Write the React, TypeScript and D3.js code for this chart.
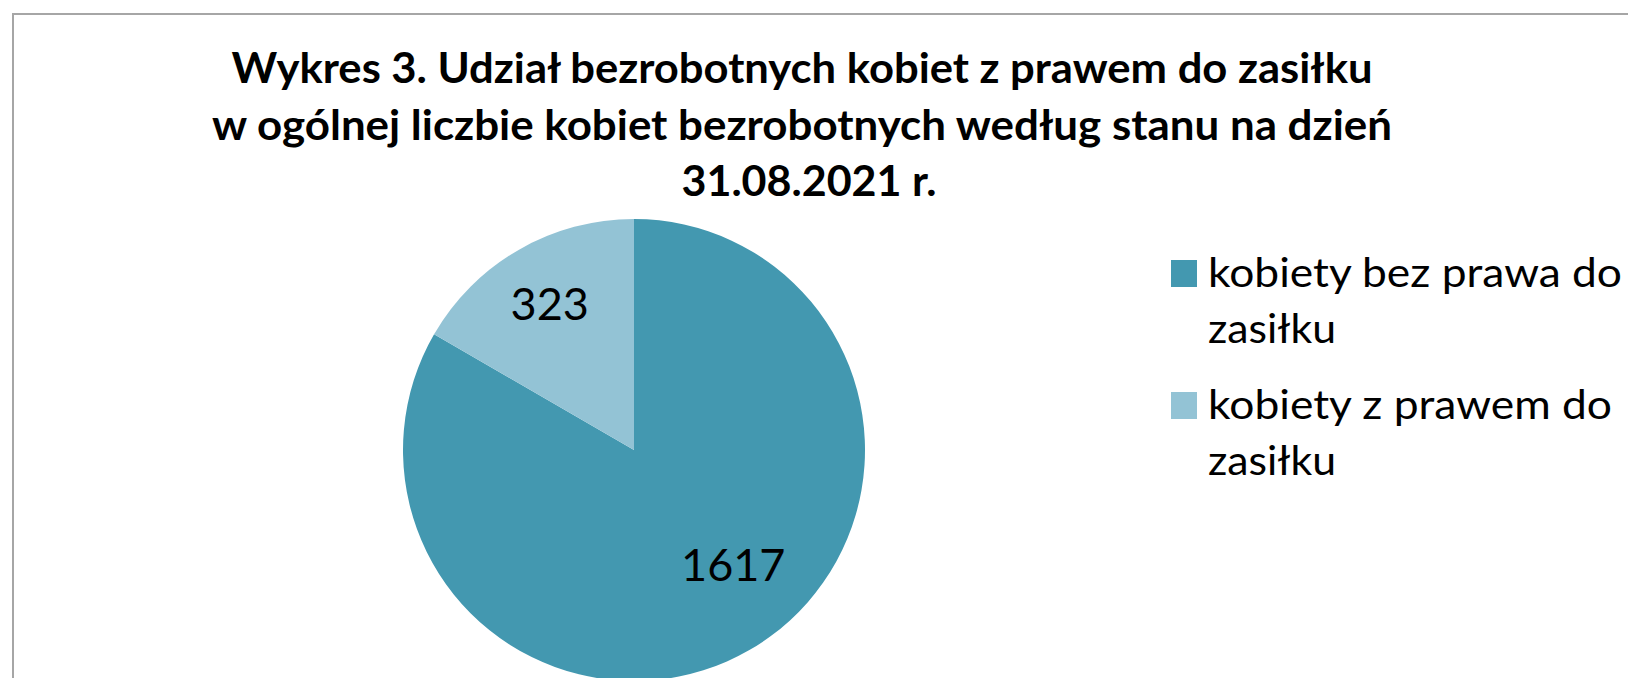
import React, { useEffect, useRef } from 'react';
import * as d3 from 'd3';

// data
const categories = ['kobiety bez prawa do zasiłku', 'kobiety z prawem do zasiłku'];
const values = [1617, 323];
const colors = ['#4398b0', '#93c3d5'];
const titleLines = [
  'Wykres 3. Udział bezrobotnych kobiet z prawem do zasiłku',
  'w ogólnej liczbie kobiet bezrobotnych według stanu na dzień',
  '31.08.2021 r.',
];
const legendLines = [
  ['kobiety bez prawa do', 'zasiłku'],
  ['kobiety z prawem do', 'zasiłku'],
];

const W = 1628;
const H = 678;
const FONT = 'Lato, "Open Sans", sans-serif';

export default function App() {
  const ref = useRef<SVGSVGElement>(null);

  useEffect(() => {
    const svg = d3.select(ref.current);
    svg.selectAll('*').remove();

    svg.append('rect').attr('width', W).attr('height', H).attr('fill', '#fff');
    // chart frame (runs off right and bottom)
    svg.append('rect')
      .attr('x', 13).attr('y', 14)
      .attr('width', W + 20).attr('height', H + 20)
      .attr('fill', 'none').attr('stroke', '#a6a6a6').attr('stroke-width', 2);

    // title
    const titleWidths = [1141, 1180, 255];
    const title = svg.append('g').attr('font-family', FONT).attr('font-weight', 'bold')
      .attr('font-size', 42).attr('text-anchor', 'middle').attr('fill', '#000');
    titleLines.forEach((t, i) => {
      title.append('text')
        .attr('x', i === 2 ? 809 : 802)
        .attr('y', 83 + i * 56.5)
        .attr('textLength', titleWidths[i])
        .attr('lengthAdjust', 'spacingAndGlyphs')
        .text(t);
    });

    // pie
    const cx = 634, cy = 450, r = 231;
    const pie = d3.pie<number>().sort(null).value(d => d);
    const arcs = pie(values);
    const arc = d3.arc<d3.PieArcDatum<number>>().innerRadius(0).outerRadius(r);
    const labelArc = d3.arc<d3.PieArcDatum<number>>().innerRadius(r * 0.73).outerRadius(r * 0.73);
    const g = svg.append('g').attr('transform', `translate(${cx},${cy})`);
    g.selectAll('path').data(arcs).join('path')
      .attr('d', arc)
      .attr('fill', (_, i) => colors[i]);

    // excel "best fit" nudges the big label a bit
    const nudge = [[15, -31], [0, 0]];
    g.selectAll('text.lbl').data(arcs).join('text')
      .attr('class', 'lbl')
      .attr('font-family', FONT).attr('font-size', 45)
      .attr('text-anchor', 'middle')
      .attr('x', (d, i) => labelArc.centroid(d)[0] + nudge[i][0])
      .attr('y', (d, i) => labelArc.centroid(d)[1] + nudge[i][1] + 16)
      .text(d => d.data);

    // legend
    const lx = 1171, ly = 260;
    const legend = svg.append('g').attr('font-family', FONT).attr('font-size', 41);
    const lineW = [[414, 128], [404, 128]];
    categories.forEach((c, i) => {
      const y0 = ly + i * 132;
      legend.append('rect')
        .attr('x', lx).attr('y', y0)
        .attr('width', 26).attr('height', 27)
        .attr('fill', colors[i]);
      legendLines[i].forEach((t, j) => {
        legend.append('text')
          .attr('x', 1208).attr('y', y0 + 27 + j * 55.5)
          .attr('textLength', lineW[i][j])
          .attr('lengthAdjust', 'spacingAndGlyphs')
          .text(t);
      });
    });
  }, []);

  return (
    <svg ref={ref} width={W} height={H}
      style={{ position: 'absolute', left: 0, top: 0, display: 'block' }} />
  );
}
